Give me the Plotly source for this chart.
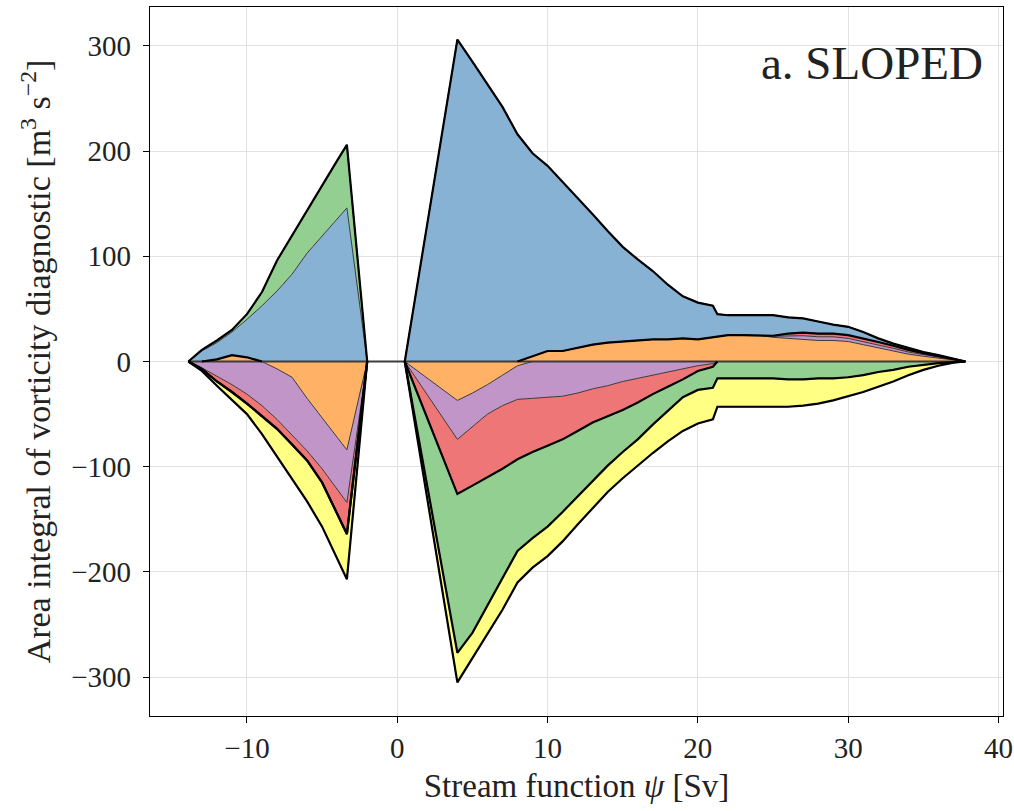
import numpy as np
import plotly.graph_objects as go

# Stream-function bins [Sv]
psi = [-13.9, -13, -12, -11, -10, -9, -8, -7, -6, -5, -4, -3.35, -2,
       0.5, 4, 5, 6, 7, 8, 9, 10, 11, 12, 13, 14, 15, 16, 17, 18, 19, 20, 21, 21.3,
       22, 23, 24, 25, 26, 27, 28, 29, 30, 31, 32, 33, 34, 35, 36, 37, 37.8]

# Area-integrated vorticity terms [m^3 s^-2]
term_orange = [0, 0, 2, 6, 4, 0, -7, -15, -35, -54, -72, -84, 0,
               0, -37, -30, -22, -13, -4, 5, 10, 10, 13, 16, 18, 19, 20, 21, 21, 22, 21, 23, 24,
               25, 25, 25, 23, 22, 21, 20, 20, 19, 16, 13, 10, 7, 5, 3, 1, 0]
term_purple = [0, -6, -14, -22, -31, -42, -48, -55, -50, -48, -49, -50, 0,
               0, -37, -32, -28, -29, -32, -35, -34, -33, -30, -26, -23, -19, -16, -13, -10, -7, -4, -2, 0,
               0, 0, 0, 1, 2.5, 3.5, 3.5, 3.5, 3, 3, 3, 2.5, 2, 1.5, 1, 0.5, 0]
term_red = [0, -1, -5, -7, -9, -10, -9, -9, -9, -13, -23, -30, 0,
            0, -52, -56, -60, -60, -57, -51, -46, -41, -36, -32, -29, -27, -23, -18, -14, -10, -5, -3, 0,
            0, 0, 0, 0.5, 2, 3, 3, 3, 3, 3, 2.5, 2.5, 2, 1.5, 1, 0.5, 0]
term_blue = [0, 10, 16, 22, 36, 53, 67, 83, 103, 119, 135, 146, 0,
             0, 306, 285, 264, 242, 216, 193, 176, 161, 142, 124, 106, 90, 77, 65, 52, 40, 35, 30, 21,
             19, 19, 19, 19.5, 15.5, 13.5, 11.5, 8.5, 8, 6, 3.5, 2, 2, 1, 1, 0.5, 0]
term_green = [0, 1, 2, 2, 5, 13, 29, 37, 41, 49, 56, 60, 0,
              0, -151, -140, -122, -103, -87, -82, -77, -69, -62, -55, -47, -40, -35, -29, -23, -17, -18, -20, -16,
              -16, -16, -16, -16, -17, -17, -16, -16, -15, -13, -10, -8, -5, -3, -1.5, -0.5, 0]
term_yellow = [0, -2, -4, -8, -10, -17, -26, -32, -39, -42, -43, -43, 0,
               0, -28, -24, -27, -31, -30, -28, -28, -28, -27, -27, -25, -25, -25, -27, -29, -32, -32, -30, -27,
               -27, -27, -27, -27, -26, -25, -24, -21, -18, -16, -14, -11, -8, -5, -2.5, -0.5, 0]

terms = [term_orange, term_purple, term_red, term_blue, term_green, term_yellow]
colors = ["#ffb266", "#c195c8", "#ef7677", "#87b2d4", "#94cf92", "#ffff84"]

x = np.array(psi, dtype=float)
vals = np.array(terms, dtype=float)
pos_cum = np.cumsum(np.clip(vals, 0, None), axis=0)
neg_cum = np.cumsum(np.clip(vals, None, 0), axis=0)

fig = go.Figure()
zeros = np.zeros_like(x)
edge = dict(color="#3a3a3a", width=1)

for cum in (pos_cum, neg_cum):
    fig.add_trace(go.Scatter(x=x, y=zeros, mode="lines", line=dict(width=0),
                             hoverinfo="skip", showlegend=False))
    for i, c in enumerate(colors):
        fig.add_trace(go.Scatter(x=x, y=cum[i], mode="lines", fill="tonexty",
                                 fillcolor=c, line=edge, showlegend=False))

# zero baseline
fig.add_trace(go.Scatter(x=[x[0], x[-1]], y=[0, 0], mode="lines",
                         line=dict(color="#3c3c3c", width=2), showlegend=False))


def off_baseline(xs, ys):
    """Break the outline wherever a segment lies flat on the zero line."""
    xo, yo = [xs[0]], [ys[0]]
    for k in range(1, len(xs)):
        if ys[k - 1] == 0 and ys[k] == 0:
            xo.append(None)
            yo.append(None)
        xo.append(xs[k])
        yo.append(ys[k])
    return xo, yo


# bold outlines of grouped sums
for y in (pos_cum[2], pos_cum[5], neg_cum[2], neg_cum[4], neg_cum[5]):
    xo, yo = off_baseline(list(x), list(y))
    fig.add_trace(go.Scatter(x=xo, y=yo, mode="lines", connectgaps=False,
                             line=dict(color="black", width=2.2), showlegend=False))

font_family = "Liberation Serif, Times New Roman, serif"
axis_common = dict(showline=True, mirror=True, linecolor="black", linewidth=1.3,
                   ticks="outside", ticklen=6, tickwidth=1.2, tickcolor="black",
                   showgrid=True, gridcolor="#e2e2e2", gridwidth=1, zeroline=False,
                   automargin=False,
                   tickfont=dict(family=font_family, size=29, color="#222"))

fig.update_layout(
    width=1014, height=811,
    margin=dict(l=150, r=11, t=7, b=95),
    paper_bgcolor="white", plot_bgcolor="white",
    font=dict(family=font_family, color="#222"),
    xaxis=dict(range=[-16.45, 40.3],
               tickvals=[-10, 0, 10, 20, 30, 40],
               ticktext=["\u221210", "0", "10", "20", "30", "40"],
               title=dict(text="Stream function <i>\u03c8</i> [Sv]",
                          font=dict(family=font_family, size=33), standoff=10),
               **axis_common),
    yaxis=dict(range=[-337, 337],
               tickvals=[-300, -200, -100, 0, 100, 200, 300],
               ticktext=["\u2212300", "\u2212200", "\u2212100", "0", "100", "200", "300"],
               ticklabelstandoff=6,
               title=dict(text="Area integral of vorticity diagnostic [m<sup>3</sup> s<sup>\u22122</sup>]",
                          font=dict(family=font_family, size=34), standoff=10),
               **axis_common),
    annotations=[dict(text="a. SLOPED", xref="paper", yref="paper", x=0.979, y=0.921,
                      xanchor="right", yanchor="middle", showarrow=False,
                      font=dict(family=font_family, size=47, color="#222"))],
)

fig.write_html("out.html")
